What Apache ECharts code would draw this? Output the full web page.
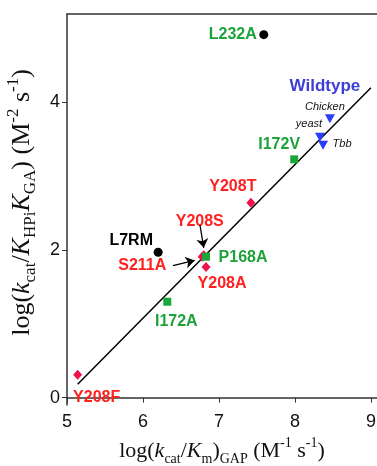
<!DOCTYPE html>
<html><head><meta charset="utf-8">
<script src="https://cdn.jsdelivr.net/npm/echarts@6/dist/echarts.min.js"></script>
<style>html,body{margin:0;padding:0;background:#fff}#c{width:377px;height:466px}</style>
</head><body><div id="c"></div>
<script>
// ---- data ----
const xTicks = [5, 6, 7, 8, 9];
const yTicks = [0, 2, 4];

const blackNames = ['L232A', 'L7RM'];
const blackX = [7.59, 6.20];
const blackY = [4.92, 1.97];

const greenNames = ['I172V', 'P168A', 'I172A'];
const greenX = [7.99, 6.83, 6.32];
const greenY = [3.23, 1.91, 1.30];

const redNames = ['Y208T', 'Y208S', 'S211A', 'Y208A', 'Y208F'];
const redX = [7.42, 6.80, 6.78, 6.83, 5.14];
const redY = [2.64, 1.93, 1.91, 1.77, 0.31];

const wtNames = ['Chicken', 'yeast', 'Tbb'];
const wtX = [8.46, 8.33, 8.37];
const wtY = [3.78, 3.53, 3.42];

const fitX = [5.14, 9.0];
const fitY = [0.18, 4.20];

// arrows: [fromX, fromY, toX, toY]
const arrowY208S = [6.75, 2.34, 6.80, 2.03];
const arrowS211A = [6.395, 1.79, 6.68, 1.86];

// ---- styles ----
const GREEN_T = '#1ea33a', GREEN_P = '#1aa83a';
const RED_T = '#ff2020', RED_P = '#f0104a';
const BLUE_P = '#2b3dfa', BLUE_T = '#3d3dd8';

const labelOffsets = {
  'L232A': [-31, 0], 'L7RM': [-27, -12],
  'I172V': [-15, -15], 'P168A': [37, 1], 'I172A': [9, 20],
  'Y208T': [-18, -16], 'Y208S': [-4, -34], 'S211A': [-60, 9], 'Y208A': [16, 17], 'Y208F': [19, 23],
  'yeast': [-11, -13], 'Tbb': [19, -1]
};
const labelColors = {'L232A': GREEN_T, 'L7RM': '#000'};

function pts(names, xs, ys, color) {
  return names.map((n, i) => {
    const d = {name: n, value: [xs[i], ys[i]]};
    const lc = labelColors[n] || color;
    if (n === 'Chicken') {
      d.label = {show: true, position: 'inside', offset: [-5, -22],
        formatter: '{w|Wildtype}\n{c|Chicken}',
        rich: {
          w: {fontFamily: 'Liberation Sans', fontWeight: 'bold', fontSize: 17, color: BLUE_T, lineHeight: 20, align: 'center'},
          c: {fontFamily: 'Liberation Sans', fontStyle: 'italic', fontSize: 11, color: '#111', lineHeight: 20, align: 'center'}
        }};
    } else if (n === 'yeast' || n === 'Tbb') {
      d.label = {show: true, position: 'inside', offset: labelOffsets[n], formatter: n,
        fontFamily: 'Liberation Sans', fontStyle: 'italic', fontSize: 11, color: '#111'};
    } else {
      d.label = {show: true, position: 'inside', offset: labelOffsets[n], formatter: n,
        fontFamily: 'Liberation Sans', fontWeight: 'bold', fontSize: 16, color: lc};
    }
    return d;
  });
}

function makeRich(big, small, lh) {
  const base = {fontFamily: 'Liberation Serif', fontSize: big, color: '#111', lineHeight: lh, verticalAlign: 'middle'};
  return {
    n: Object.assign({}, base),
    i: Object.assign({}, base, {fontStyle: 'italic'}),
    s: {fontFamily: 'Liberation Serif', fontSize: small, color: '#111', lineHeight: small, verticalAlign: 'bottom'},
    p: {fontFamily: 'Liberation Serif', fontSize: small, color: '#111', lineHeight: small, verticalAlign: 'top'}
  };
}

const chart = echarts.init(document.getElementById('c'), null, {renderer: 'canvas'});
const axisLine = {show: true, lineStyle: {color: '#333', width: 1.5}};
chart.setOption({
  animation: false,
  grid: {left: 67, top: 14, right: 0, bottom: 61, containLabel: false, outerBoundsMode: 'none'},
  xAxis: [{
    type: 'value', min: 5, max: 9.08, interval: 1,
    axisLine: axisLine, splitLine: {show: false},
    axisTick: {show: true, length: 5, lineStyle: {color: '#333'}, customValues: xTicks},
    axisLabel: {fontFamily: 'Liberation Sans', fontSize: 18, color: '#111', margin: 8, customValues: xTicks,
      showMinLabel: true, showMaxLabel: true},
    name: '{n|log(}{i|k}{s|cat}{n|/}{i|K}{s|m}{n|)}{s|GAP}{n| (M}{p|-1}{n| s}{p|-1}{n|)}',
    nameLocation: 'middle', nameGap: 26,
    nameTextStyle: {rich: makeRich(22, 14, 30)}
  }, {
    type: 'value', position: 'top', min: 5, max: 9.08,
    axisLine: axisLine, axisTick: {show: false}, axisLabel: {show: false}, splitLine: {show: false}
  }],
  yAxis: {
    type: 'value', min: -0.1, max: 5.2,
    axisLine: axisLine, splitLine: {show: false},
    axisTick: {show: true, length: 5, lineStyle: {color: '#333'}, customValues: yTicks},
    axisLabel: {fontFamily: 'Liberation Sans', fontSize: 18, color: '#111', margin: 7, customValues: yTicks},
    name: '{n|log(}{i|k}{s|cat}{n|/}{i|K}{s|HPi}{i|K}{s|GA}{n|) (M}{p|-2}{n| s}{p|-1}{n|)}',
    nameLocation: 'middle', nameGap: 19, nameRotate: 90,
    nameTextStyle: {rich: makeRich(26, 17, 34), padding: [0, 0, 0, 14]}
  },
  series: [
    {type: 'line', data: fitX.map((x, i) => [x, fitY[i]]), symbol: 'none',
      lineStyle: {color: '#000', width: 1.5}, z: 1,
      markLine: {silent: true, symbol: ['none', 'arrow'], symbolSize: 9, label: {show: false},
        lineStyle: {color: '#000', width: 1.3, type: 'solid'},
        data: [
          [{coord: [arrowY208S[0], arrowY208S[1]]}, {coord: [arrowY208S[2], arrowY208S[3]]}],
          [{coord: [arrowS211A[0], arrowS211A[1]]}, {coord: [arrowS211A[2], arrowS211A[3]]}]
        ]}},
    {type: 'scatter', symbol: 'diamond', symbolSize: [9, 10], itemStyle: {color: RED_P, opacity: 1}, z: 3,
      data: pts(redNames, redX, redY, RED_T)},
    {type: 'scatter', symbol: 'rect', symbolSize: 8, itemStyle: {color: GREEN_P, opacity: 1}, z: 4,
      data: pts(greenNames, greenX, greenY, GREEN_T)},
    {type: 'scatter', symbol: 'circle', symbolSize: 9, itemStyle: {color: '#000', opacity: 1}, z: 4,
      data: pts(blackNames, blackX, blackY, '#000')},
    {type: 'scatter', symbol: 'triangle', symbolRotate: 180, symbolSize: [10, 9], itemStyle: {color: BLUE_P, opacity: 1}, z: 4,
      data: pts(wtNames, wtX, wtY, BLUE_T)}
  ]
});
</script></body></html>
